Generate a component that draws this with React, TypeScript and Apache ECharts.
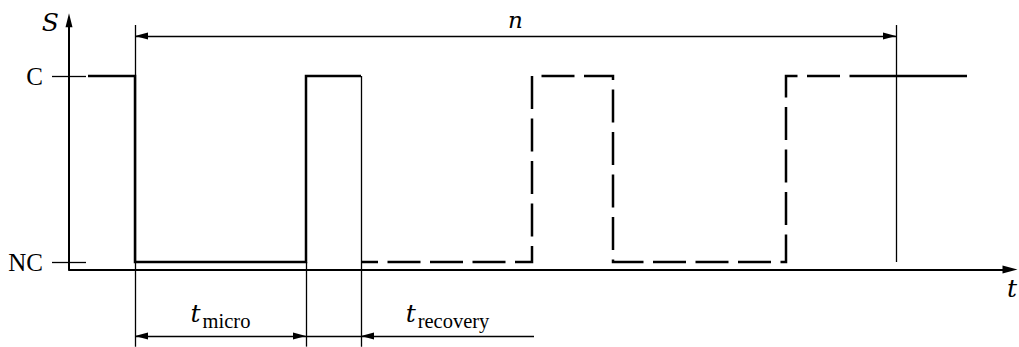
import React, { useEffect, useRef } from "react";
import * as echarts from "echarts";

// Signal levels: NC = 0, C = 1 ; time in arbitrary units
const solidSignal: [number, number][] = [[19, 1], [66, 1], [66, 0], [237, 0], [237, 1], [292, 1]];
const dashedSignal: [number, number][] = [[292, 0], [463, 0], [463, 1], [544, 1], [544, 0], [717, 0], [717, 1], [798, 1]];
const tailSignal: [number, number][] = [[798, 1], [898, 1]];
const yTickValues = [0, 1];
const yTickLabels = ["NC", "C"];
const nSpan = [66, 827];
const microSpan = [66, 237];
const recoverySpan = [292, 465];
const nLevel = 1.215;
const dimLevel = -0.398;
const extTop = 1.274;
const extBottom = -0.455;

const SERIF = "Liberation Serif";
const MATH = "DejaVu Serif";

export default function App() {
  const ref = useRef<HTMLDivElement>(null);
  useEffect(() => {
    const chart = echarts.init(ref.current!, null, { renderer: "svg" });
    const thin = { color: "#000", width: 1.3, type: "solid" as const };
    const arrowSize = [7, 13];
    const arrowOffset = [0, 6.5];
    const tri = { symbol: "triangle", symbolSize: arrowSize, symbolOffset: arrowOffset };
    const none = { symbol: "none" };
    const sub = (name: string) => `{t|t}{s|${name}}`;
    const labelRich = {
      t: { fontFamily: MATH, fontStyle: "italic", fontSize: 25, color: "#000" },
      s: { fontFamily: SERIF, fontSize: 20.5, color: "#000", padding: [14, 0, 0, 2] },
    };
    const hiddenAxis = { show: false, axisLine: { show: false }, axisTick: { show: false }, axisLabel: { show: false }, splitLine: { show: false } };
    const option: any = {
      animation: false,
      backgroundColor: "#fff",
      grid: [
        { left: 69, right: 9, top: 20.2, bottom: 77.56, outerBoundsMode: "none", containLabel: false },
        { left: 69, right: 9, top: 0, bottom: 0, outerBoundsMode: "none", containLabel: false },
      ],
      xAxis: [
        {
          type: "value",
          gridIndex: 0,
          min: 0,
          max: 941,
          name: "t",
          nameLocation: "end",
          nameGap: 2,
          nameMoveOverlap: false,
          nameTextStyle: { fontFamily: MATH, fontStyle: "italic", fontSize: 25, color: "#000", align: "center", verticalAlign: "top", padding: [7, 0, 0, 0] },
          axisLine: { onZero: false, symbol: ["none", "triangle"], symbolSize: [8, 15], lineStyle: { color: "#000", width: 2 } },
          axisTick: { show: false },
          axisLabel: { show: false },
          splitLine: { show: false },
        },
        { type: "value", gridIndex: 1, min: 0, max: 941, ...hiddenAxis },
      ],
      yAxis: [
        {
          type: "value",
          gridIndex: 0,
          min: -0.04,
          max: 1.3,
          name: "S",
          nameLocation: "end",
          nameGap: -2,
          nameMoveOverlap: false,
          nameTextStyle: { fontFamily: MATH, fontStyle: "italic", fontSize: 25, color: "#000", align: "right", verticalAlign: "middle", padding: [0, 10, 0, 0] },
          axisLine: { show: true, onZero: false, symbol: ["none", "triangle"], symbolSize: [7, 14], lineStyle: { color: "#000", width: 2 } },
          axisTick: { show: true, length: 17, customValues: yTickValues, lineStyle: { color: "#000", width: 1.3 } },
          axisLabel: {
            show: true,
            customValues: yTickValues,
            margin: 26,
            fontFamily: SERIF,
            fontSize: 25,
            color: "#000",
            formatter: (v: number) => yTickLabels[yTickValues.indexOf(Math.round(v))] ?? "",
          },
          splitLine: { show: false },
        },
        {
          type: "value",
          gridIndex: 0,
          min: -0.04,
          max: 1.3,
          position: "left",
          axisLine: { show: false },
          axisTick: { show: true, inside: true, length: 17, customValues: yTickValues, lineStyle: { color: "#000", width: 1.3 } },
          axisLabel: { show: false },
          splitLine: { show: false },
        },
        { type: "value", gridIndex: 1, min: -85 / 186, max: 262 / 186, ...hiddenAxis },
      ],
      series: [
        {
          type: "line",
          data: solidSignal,
          xAxisIndex: 0,
          yAxisIndex: 0,
          symbol: "none",
          clip: false,
          silent: true,
          lineStyle: { color: "#000", width: 2.5, cap: "butt", join: "miter" },
        },
        {
          type: "line",
          data: dashedSignal,
          xAxisIndex: 0,
          yAxisIndex: 0,
          symbol: "none",
          clip: false,
          silent: true,
          lineStyle: { color: "#000", width: 2.5, type: [33, 9.5], dashOffset: 16, cap: "butt", join: "miter" },
        },
        {
          type: "line",
          data: tailSignal,
          xAxisIndex: 0,
          yAxisIndex: 0,
          symbol: "none",
          clip: false,
          silent: true,
          lineStyle: { color: "#000", width: 2.5, cap: "butt" },
        },
        {
          type: "line",
          data: [],
          xAxisIndex: 1,
          yAxisIndex: 2,
          symbol: "none",
          clip: false,
          silent: true,
          markLine: {
            silent: true,
            animation: false,
            symbol: ["none", "none"],
            label: { show: false },
            lineStyle: thin,
            emphasis: { disabled: true },
            data: [
              [{ coord: [nSpan[0], extTop], ...none }, { coord: [nSpan[0], extBottom], ...none }],
              [{ coord: [microSpan[1], 0], ...none }, { coord: [microSpan[1], extBottom], ...none }],
              [{ coord: [recoverySpan[0], 1], ...none }, { coord: [recoverySpan[0], extBottom], ...none }],
              [{ coord: [nSpan[1], extTop], ...none }, { coord: [nSpan[1], 0], ...none }],
              [
                { coord: [nSpan[0], nLevel], ...tri, label: { show: true, position: "insideMiddleTop", distance: 5, formatter: "n", fontFamily: MATH, fontStyle: "italic", fontSize: 23, color: "#000" } },
                { coord: [nSpan[1], nLevel], ...tri },
              ],
              [
                { coord: [microSpan[0], dimLevel], ...tri, label: { show: true, position: "insideMiddleTop", distance: 5, formatter: sub("micro"), rich: labelRich } },
                { coord: [microSpan[1], dimLevel], ...tri },
              ],
              [{ coord: [microSpan[1], dimLevel], ...none }, { coord: [recoverySpan[0], dimLevel], ...none }],
              [
                { coord: [recoverySpan[0], dimLevel], ...tri, label: { show: true, position: "insideMiddleTop", distance: 5, formatter: sub("recovery"), rich: labelRich } },
                { coord: [recoverySpan[1], dimLevel], ...none },
              ],
            ],
          },
        },
      ],
    };
    chart.setOption(option);
    return () => chart.dispose();
  }, []);
  return <div ref={ref} style={{ position: "absolute", left: 0, top: 0, width: 1019, height: 347, background: "#fff" }} />;
}
